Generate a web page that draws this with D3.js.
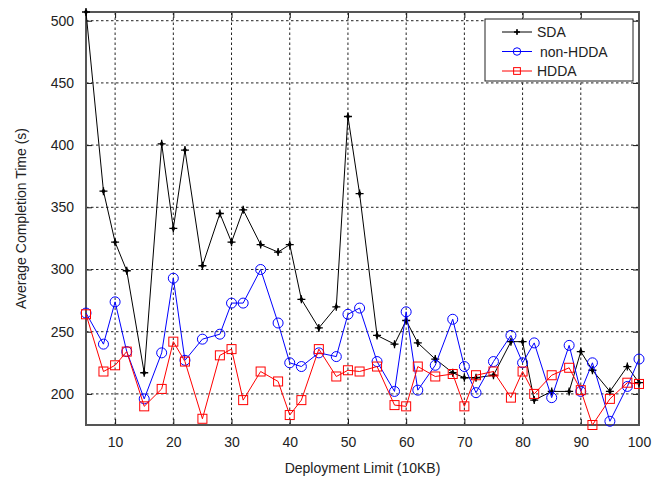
<!DOCTYPE html>
<html>
<head>
<meta charset="utf-8">
<script src="https://cdn.jsdelivr.net/npm/d3@7"></script>
<style>
  body { margin: 0; background: #fff; }
  svg { font-family: "Liberation Sans", Arial, sans-serif; }
</style>
</head>
<body>
<div id="chart"></div>
<script>
// deployment limits (10KB)
var limits = [5, 8, 10, 12, 15, 18, 20, 22, 25, 28, 30, 32, 35, 38, 40, 42, 45, 48, 50, 52,
              55, 58, 60, 62, 65, 68, 70, 72, 75, 78, 80, 82, 85, 88, 90, 92, 95, 98, 100];

var sda = [507, 363, 322, 299, 217, 401, 333, 396, 303, 345, 322, 348, 320, 314, 320, 276, 253, 270, 423, 361,
           247, 240, 259, 241, 228, 217, 213, 213, 215, 242, 242, 195, 202, 202, 234, 219, 202, 222, 209];

var nonHdda = [265, 240, 274, 234, 196, 233, 293, 227, 244, 248, 273, 273, 300, 257, 225, 222, 233, 230, 264, 269,
               226, 202, 266, 203, 223, 260, 222, 201, 226, 247, 225, 241, 197, 239, 202, 225, 178, 206, 228];

var hdda = [264, 218, 223, 234, 190, 204, 242, 226, 180, 231, 236, 195, 218, 210, 183, 195, 236, 214, 219, 218,
            222, 191, 190, 222, 214, 216, 190, 215, 218, 197, 218, 200, 215, 221, 203, 175, 196, 209, 208];

var xTicks = [10, 20, 30, 40, 50, 60, 70, 80, 90, 100];
var yTicks = [200, 250, 300, 350, 400, 450, 500];

var seriesNames = ["SDA", "non-HDDA", "HDDA"];
var seriesColors = ["#000000", "#0000ff", "#ff0000"];
var seriesValues = [sda, nonHdda, hdda];

var width = 653, height = 483;
var margin = {top: 12, right: 14, bottom: 58, left: 86};

var svg = d3.select("#chart").append("svg")
    .attr("width", width)
    .attr("height", height);

var xScale = d3.scaleLinear()
    .domain([5, 100])
    .range([margin.left, width - margin.right]);

var yScale = d3.scaleLinear()
    .domain([175, 507])
    .range([height - margin.bottom, margin.top]);

// grid
var grid = svg.append("g").attr("class", "grid")
    .style("stroke", "#222")
    .style("stroke-width", 1)
    .style("stroke-dasharray", "2.5,2.5");

grid.selectAll("line.gx").data(xTicks).enter().append("line")
    .attr("class", "gx")
    .attr("x1", function(d) { return xScale(d); })
    .attr("x2", function(d) { return xScale(d); })
    .attr("y1", yScale.range()[0])
    .attr("y2", yScale.range()[1]);

grid.selectAll("line.gy").data(yTicks).enter().append("line")
    .attr("class", "gy")
    .attr("y1", function(d) { return yScale(d); })
    .attr("y2", function(d) { return yScale(d); })
    .attr("x1", xScale.range()[0])
    .attr("x2", xScale.range()[1]);

// axes, MATLAB style ticks inside
var xAxis = d3.axisBottom(xScale).tickValues(xTicks).tickSizeInner(-6).tickSizeOuter(0).tickPadding(12);
var yAxis = d3.axisLeft(yScale).tickValues(yTicks).tickSizeInner(-6).tickSizeOuter(0).tickPadding(12);
var xAxisTop = d3.axisTop(xScale).tickValues(xTicks).tickSizeInner(-6).tickSizeOuter(0).tickFormat("");
var yAxisRight = d3.axisRight(yScale).tickValues(yTicks).tickSizeInner(-6).tickSizeOuter(0).tickFormat("");

svg.append("g").attr("class", "x axis")
    .attr("transform", "translate(0," + yScale.range()[0] + ")")
    .call(xAxis);
svg.append("g").attr("class", "y axis")
    .attr("transform", "translate(" + xScale.range()[0] + ",0)")
    .call(yAxis);
svg.append("g").attr("class", "x2 axis")
    .attr("transform", "translate(0," + yScale.range()[1] + ")")
    .call(xAxisTop);
svg.append("g").attr("class", "y2 axis")
    .attr("transform", "translate(" + xScale.range()[1] + ",0)")
    .call(yAxisRight);

svg.selectAll("g.axis path.domain").remove();
svg.selectAll("g.axis line").style("stroke", "#111").style("stroke-width", 1);
svg.selectAll("g.axis text")
    .style("fill", "#222")
    .style("font-size", "14px");

// frame
svg.append("rect")
    .attr("x", xScale.range()[0])
    .attr("y", yScale.range()[1])
    .attr("width", xScale.range()[1] - xScale.range()[0])
    .attr("height", yScale.range()[0] - yScale.range()[1])
    .style("fill", "none")
    .style("stroke", "#555")
    .style("stroke-width", 2);

// axis labels
svg.append("text")
    .attr("x", (xScale.range()[0] + xScale.range()[1]) / 2)
    .attr("y", 473)
    .style("text-anchor", "middle")
    .style("font-size", "14px")
    .style("fill", "#222")
    .text("Deployment Limit (10KB)");

svg.append("text")
    .attr("transform", "translate(26," + (yScale.range()[0] + yScale.range()[1]) / 2 + ") rotate(-90)")
    .style("text-anchor", "middle")
    .style("font-size", "14px")
    .style("fill", "#222")
    .text("Average Completion Time (s)");

// markers
var drawMarker = function(sel, i, color, s) {
    s = s || 1;
    if (i === 0) {
        sel.append("path")
            .attr("d", "M" + (-4 * s) + ",0H" + (4 * s) + "M0," + (-4 * s) + "V" + (4 * s))
            .style("stroke", color).style("stroke-width", 1.3).style("fill", "none");
        sel.append("path")
            .attr("d", d3.symbol().type(d3.symbolDiamond).size(14 * s * s)())
            .style("fill", color);
    } else if (i === 1) {
        sel.append("circle").attr("r", 5 * s)
            .style("fill", "none").style("stroke", color).style("stroke-width", 1);
    } else {
        sel.append("rect").attr("x", -4.5 * s).attr("y", -4.5 * s).attr("width", 9 * s).attr("height", 9 * s)
            .style("fill", "none").style("stroke", color).style("stroke-width", 1);
    }
};

var line = d3.line()
    .x(function(d) { return xScale(d[0]); })
    .y(function(d) { return yScale(d[1]); });

seriesValues.forEach(function(values, i) {
    var pts = limits.map(function(x, j) { return [x, values[j]]; });
    var g = svg.append("g").attr("class", "series");
    g.append("path")
        .datum(pts)
        .attr("d", line)
        .style("fill", "none")
        .style("stroke", seriesColors[i])
        .style("stroke-width", 1);
    g.selectAll("g.marker").data(pts).enter().append("g")
        .attr("class", "marker")
        .attr("transform", function(d) { return "translate(" + xScale(d[0]) + "," + yScale(d[1]) + ")"; })
        .each(function() { drawMarker(d3.select(this), i, seriesColors[i]); });
});

// legend
var legend = svg.append("g").attr("class", "legend").attr("transform", "translate(485,19)");
legend.append("rect")
    .attr("width", 148).attr("height", 62)
    .style("fill", "#fff").style("stroke", "#222").style("stroke-width", 1);

seriesNames.forEach(function(name, i) {
    var row = legend.append("g").attr("transform", "translate(0," + (13 + i * 19.5) + ")");
    row.append("line")
        .attr("x1", 17).attr("x2", 47)
        .style("stroke", seriesColors[i]).style("stroke-width", 1);
    var m = row.append("g").attr("transform", "translate(32,0)");
    drawMarker(m, i, seriesColors[i], 0.75);
    row.append("text")
        .attr("x", 52 + (i === 1 ? 3 : 0)).attr("y", 5)
        .style("font-size", "14px")
        .style("fill", "#222")
        .text(name);
});
</script>
</body>
</html>
